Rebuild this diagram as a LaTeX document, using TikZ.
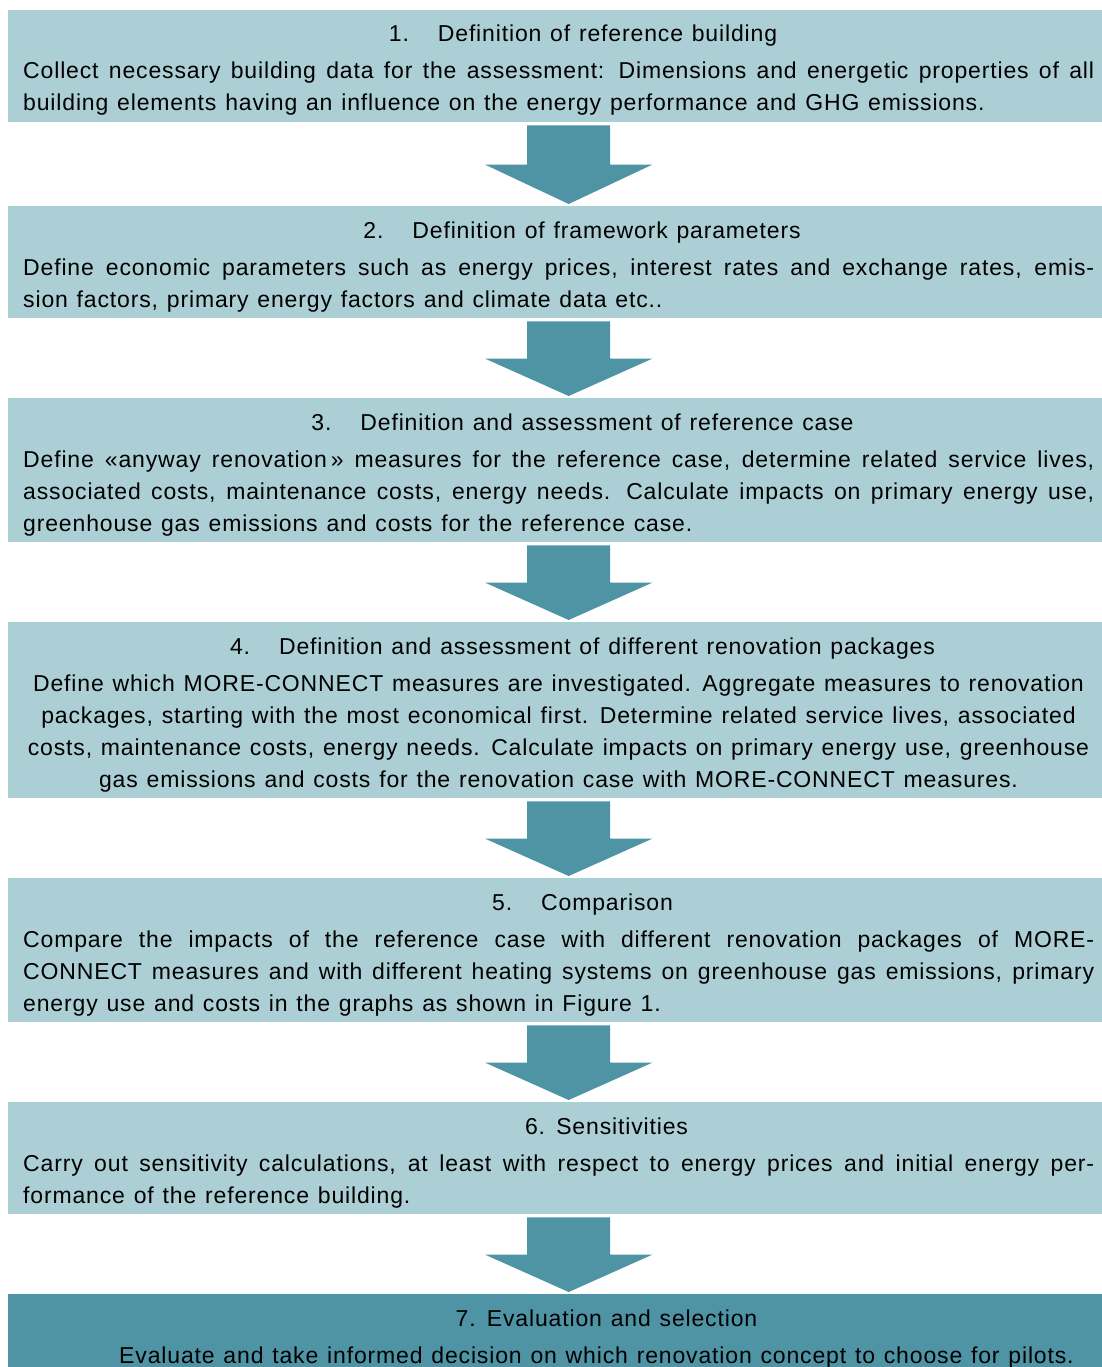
\documentclass[tikz,border=0pt]{standalone}
\usepackage{fontspec}
\setmainfont[LetterSpace=3.7]{Liberation Sans}
\usetikzlibrary{positioning, calc}
\definecolor{boxLight}{RGB}{171, 207, 213}
\definecolor{boxDark}{RGB}{79, 148, 164}
\newcommand{\jline}[1]{\makebox[1071pt][s]{#1}}
\newcommand{\numgap}{\hspace{29pt}}
\newcommand{\widespace}{\spaceskip=8.8pt plus 10pt minus 2pt\relax}
\newcommand{\fixedspace}{\spaceskip=8.8pt\relax}

\begin{document}
\begin{tikzpicture}[x=1pt, y=-1pt,
    every node/.style={font=\fontsize{23}{32}\selectfont, inner sep=0pt, execute at begin node=\fixedspace},
    stepbox/.style={fill=boxLight, anchor=north west, minimum width=1094pt},
    steptitle/.style={anchor=base},
    stepbody/.style={anchor=base west, text width=1071pt, align=justify, execute at begin node=\widespace}]
    \useasboundingbox (0, 0) rectangle (1102, 1367);

    % Boxes
    \node[stepbox, minimum height=112pt] (b1) at (8, 10) {};
    \node[stepbox, minimum height=112pt] (b2) at (8, 206) {};
    \node[stepbox, minimum height=144pt] (b3) at (8, 398) {};
    \node[stepbox, minimum height=176pt] (b4) at (8, 622) {};
    \node[stepbox, minimum height=144pt] (b5) at (8, 878) {};
    \node[stepbox, minimum height=112pt] (b6) at (8, 1102) {};
    \node[stepbox, minimum height=73pt, fill=boxDark] (b7) at (8, 1294) {};

    % Block arrows between the steps
    \foreach \a/\b in {b1/b2, b2/b3, b3/b4, b4/b5, b5/b6, b6/b7} {
        \coordinate (top) at ($(\a.south)+(13.5, 3)$);
        \coordinate (tip) at ($(\b.north)+(13.5, -2)$);
        \coordinate (mid) at ($(top)!0.5!(tip)$);
        \fill[boxDark] ($(top)+(-41.5, 0)$) -- ($(top)+(41.5, 0)$) -- ($(mid)+(41.5, 0)$)
            -- ($(mid)+(83.5, 0)$) -- (tip) -- ($(mid)+(-83.5, 0)$) -- ($(mid)+(-41.5, 0)$) -- cycle;
    }

    % 1
    \node[steptitle] (t1) at (583, 42) {1.\numgap Definition of reference building};
    \node[stepbody] (d1) at (23, 79) {\jline{Collect necessary building data for the assessment: Dimensions and energetic properties of all}\\
        building elements having an influence on the energy performance and GHG emissions.};

    % 2
    \node[steptitle] (t2) at (582, 238) {2.\numgap Definition of framework parameters};
    \node[stepbody] (d2) at (23, 275) {\jline{Define economic parameters such as energy prices, interest rates and exchange rates, emis-}\\
        sion factors, primary energy factors and climate data etc..};

    % 3
    \node[steptitle] (t3) at (582.5, 430) {3.\numgap Definition and assessment of reference case};
    \node[stepbody] (d3) at (23, 467) {\jline{Define «anyway renovation\,» measures for the reference case, determine related service lives,}\\
        \jline{associated costs, maintenance costs, energy needs. Calculate impacts on primary energy use,}\\
        greenhouse gas emissions and costs for the reference case.};

    % 4
    \node[steptitle] (t4) at (582.5, 654) {4.\numgap Definition and assessment of different renovation packages};
    \node[anchor=base, text width=1071pt, align=center] (d4) at (558.5, 691) {Define which MORE-CONNECT measures are investigated. Aggregate measures to renovation\\
        packages, starting with the most economical first. Determine related service lives, associated\\
        costs, maintenance costs, energy needs. Calculate impacts on primary energy use, greenhouse\\
        gas emissions and costs for the renovation case with MORE-CONNECT measures.};

    % 5
    \node[steptitle] (t5) at (582.5, 910) {5.\numgap Comparison};
    \node[stepbody] (d5) at (23, 947) {\jline{Compare the impacts of the reference case with different renovation packages of MORE-}\\
        \jline{CONNECT measures and with different heating systems on greenhouse gas emissions, primary}\\
        energy use and costs in the graphs as shown in Figure 1.};

    % 6
    \node[steptitle] (t6) at (606.5, 1134) {6. Sensitivities};
    \node[stepbody] (d6) at (23, 1171) {\jline{Carry out sensitivity calculations, at least with respect to energy prices and initial energy per-}\\
        formance of the reference building.};

    % 7
    \node[steptitle] (t7) at (606.5, 1326) {7. Evaluation and selection};
    \node[steptitle] (d7) at (596.5, 1363) {Evaluate and take informed decision on which renovation concept to choose for pilots.};
\end{tikzpicture}
\end{document}
